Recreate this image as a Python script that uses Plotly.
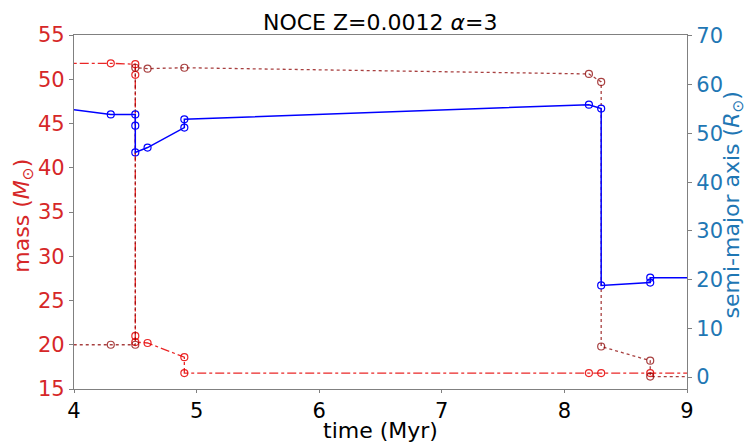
import plotly.graph_objects as go

# primary mass (dash-dot, red)
t1 = [3.9, 4.3, 4.5, 4.5, 4.5, 4.5, 4.6, 4.9, 4.9, 8.2, 8.3, 8.7, 9.2]
m1 = [51.8, 51.8, 51.7, 50.5, 21.0, 20.3, 20.2, 18.6, 16.8, 16.8, 16.8, 16.8, 16.8]
# secondary mass (dotted, dark red)
t2 = [3.9, 4.3, 4.5, 4.5, 4.6, 4.9, 8.2, 8.3, 8.3, 8.7, 8.7, 9.2]
m2 = [20.0, 20.0, 20.0, 51.3, 51.2, 51.3, 50.6, 49.7, 19.8, 18.2, 16.4, 16.4]
# semi-major axis (solid, blue)
ta = [3.9, 4.3, 4.5, 4.5, 4.5, 4.6, 4.9, 4.9, 8.2, 8.3, 8.3, 8.7, 8.7, 9.2]
a = [55.2, 53.9, 53.9, 51.6, 46.1, 47.1, 51.2, 52.9, 55.9, 55.1, 18.8, 19.4, 20.4, 20.4]

xticks = [4, 5, 6, 7, 8, 9]
lticks = [15, 20, 25, 30, 35, 40, 45, 50, 55]
rticks = [0, 10, 20, 30, 40, 50, 60, 70]

FONT = "DejaVu Sans"
RED = "#d62728"
BLUE = "#1f77b4"

fig = go.Figure()
fig.add_trace(go.Scatter(x=t1, y=m1, mode="lines+markers",
                         line=dict(color="rgba(230,0,0,0.85)", dash="dashdot", width=1.3),
                         marker=dict(symbol="circle-open", size=7, color="rgba(230,0,0,0.85)", line=dict(width=1.2)),
                         showlegend=False))
fig.add_trace(go.Scatter(x=t2, y=m2, mode="lines+markers",
                         line=dict(color="rgba(139,0,0,0.75)", dash="dot", width=1.3),
                         marker=dict(symbol="circle-open", size=7, color="rgba(139,0,0,0.75)", line=dict(width=1.2)),
                         showlegend=False))
fig.add_trace(go.Scatter(x=ta, y=a, mode="lines+markers", yaxis="y2",
                         line=dict(color="#0000ff", width=1.5),
                         marker=dict(symbol="circle-open", size=7, color="#0000ff", line=dict(width=1.2)),
                         showlegend=False))

axis_line = "#808080"
fig.update_layout(
    width=747, height=446,
    margin=dict(l=74, r=60, t=35, b=57),
    paper_bgcolor="white", plot_bgcolor="white",
    font=dict(family=FONT, size=20, color="black"),
    title=dict(text="NOCE Z=0.0012 <i>α</i>=3", x=0.509, xanchor="center", y=0.950, yanchor="middle",
               font=dict(family=FONT, size=22, color="black")),
    xaxis=dict(range=[4, 9], tickvals=xticks, ticktext=[str(v) for v in xticks], automargin=False,
               showgrid=False, zeroline=False, showline=True, linecolor=axis_line, linewidth=1.2,
               mirror=True, ticks="outside", ticklen=3, tickcolor=axis_line,
               tickfont=dict(size=21, color="black")),
    yaxis=dict(range=[15, 55], tickvals=lticks, ticktext=[str(v) for v in lticks], automargin=False,
               showgrid=False, zeroline=False, showline=True, linecolor=axis_line, linewidth=1.2,
               ticks="outside", ticklen=4, tickcolor=axis_line,
               tickfont=dict(size=21, color=RED)),
    yaxis2=dict(range=[-2.45, 70.2], tickvals=rticks, ticktext=[str(v) for v in rticks], automargin=False,
                overlaying="y", side="right",
                showgrid=False, zeroline=False, showline=True, linecolor=axis_line, linewidth=1.2,
                ticks="outside", ticklen=4, tickcolor=axis_line,
                tickfont=dict(size=21, color=BLUE)),
    annotations=[
        dict(text="time (Myr)", xref="paper", yref="paper", x=0.5, y=-0.116, xanchor="center", yanchor="middle",
             showarrow=False, font=dict(size=22, color="black")),
        dict(text="mass (<i>M</i><sub>⊙</sub>)", xref="paper", x=-0.083, xanchor="center",
             yref="paper", y=0.49, yanchor="middle", textangle=-90,
             showarrow=False, font=dict(size=22, color=RED)),
        dict(text="semi-major axis (<i>R</i><sub>⊙</sub>)", xref="paper", x=1.076, xanchor="center",
             yref="paper", y=0.52, yanchor="middle", textangle=-90,
             showarrow=False, font=dict(size=22, color=BLUE)),
    ],
)

fig.write_html("out.html")
